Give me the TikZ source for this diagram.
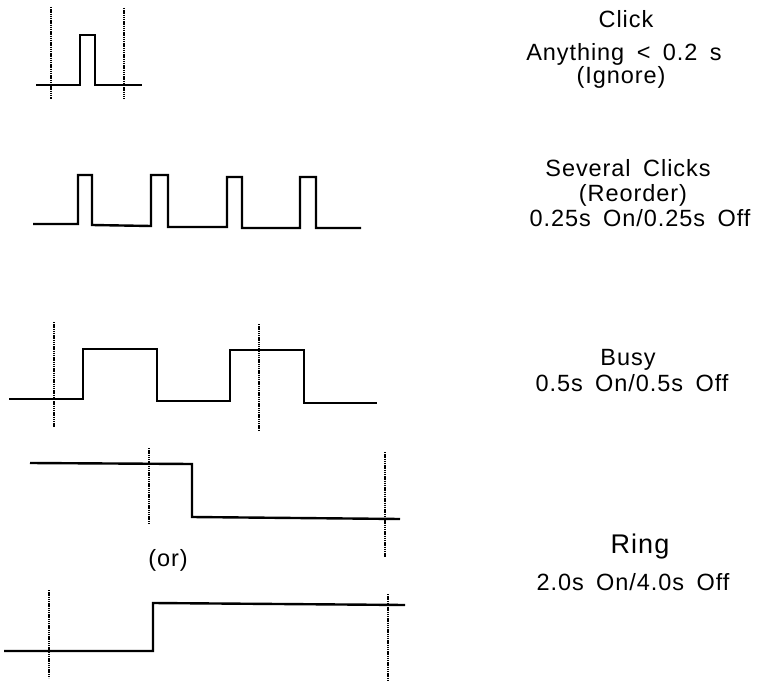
\documentclass[tikz,border=0pt]{standalone}
\usepackage{fontspec}
\setmainfont{Liberation Sans}[LetterSpace=4]
\newcommand{\gap}{\ \hspace{5pt}}
\begin{document}
\begin{tikzpicture}[x=1pt,y=-1pt,
  wave/.style={line width=2.4pt,line join=miter},
  marker/.style={line width=1.8pt,dash pattern=on 1.4pt off 0.8pt},
  lbl/.style={font=\fontsize{23.5}{26}\selectfont,inner sep=0pt,anchor=base},
  biglbl/.style={font=\fontsize{27}{30}\selectfont,inner sep=0pt,anchor=base}]
\useasboundingbox (0,0) rectangle (765,695);
% Click
\draw[wave] (36,85) -- (80,85) -- (80,35) -- (95,35) -- (95,85) -- (142,85);
\draw[marker] (51,7) -- (51,99);
\draw[marker] (124,8) -- (124,99);
% Several clicks
\draw[wave] (33,224) -- (78,224) -- (78,175) -- (92,175) -- (92,225) -- (151,226) -- (151,175) -- (168,175) -- (168,227) -- (227,227) -- (227,177) -- (242,177) -- (242,228) -- (300,228) -- (300,177) -- (316,177) -- (316,228) -- (361,228);
% Busy
\draw[wave] (9,399) -- (83,399) -- (83,349) -- (157,349) -- (157,401) -- (230,401) -- (230,350) -- (304,350) -- (304,403) -- (377,403);
\draw[marker] (54,322) -- (54,427);
\draw[marker] (259,324) -- (259,430);
% Ring 1
\draw[wave] (30,463) -- (192,464) -- (192,517) -- (400,519);
\draw[marker] (149,448) -- (149,523);
\draw[marker] (385,452) -- (385,557);
% Ring 2
\draw[wave] (4,651) -- (153,651) -- (153,603) -- (405,605);
\draw[marker] (49,590) -- (49,678);
\draw[marker] (388,594) -- (388,680);
% Labels
\node[lbl] (click) at (626,28) {Click};
\node[lbl] (any) at (624,61) {Anything\gap<\gap0.2\gap s};
\node[lbl] (ign) at (621,84) {(Ignore)};
\node[lbl] (sev) at (628,177) {Several\gap Clicks};
\node[lbl] (reo) at (633,201) {(Reorder)};
\node[lbl] (t25) at (640,226) {0.25s\gap On/0.25s\gap Off};
\node[lbl] (busy) at (628,365) {Busy};
\node[lbl] (t5) at (632,391) {0.5s\gap On/0.5s\gap Off};
\node[lbl] (or) at (168,566) {(or)};
\node[biglbl] (ring) at (640,553) {Ring};
\node[lbl] (t20) at (633,590) {2.0s\gap On/4.0s\gap Off};
\end{tikzpicture}
\end{document}
